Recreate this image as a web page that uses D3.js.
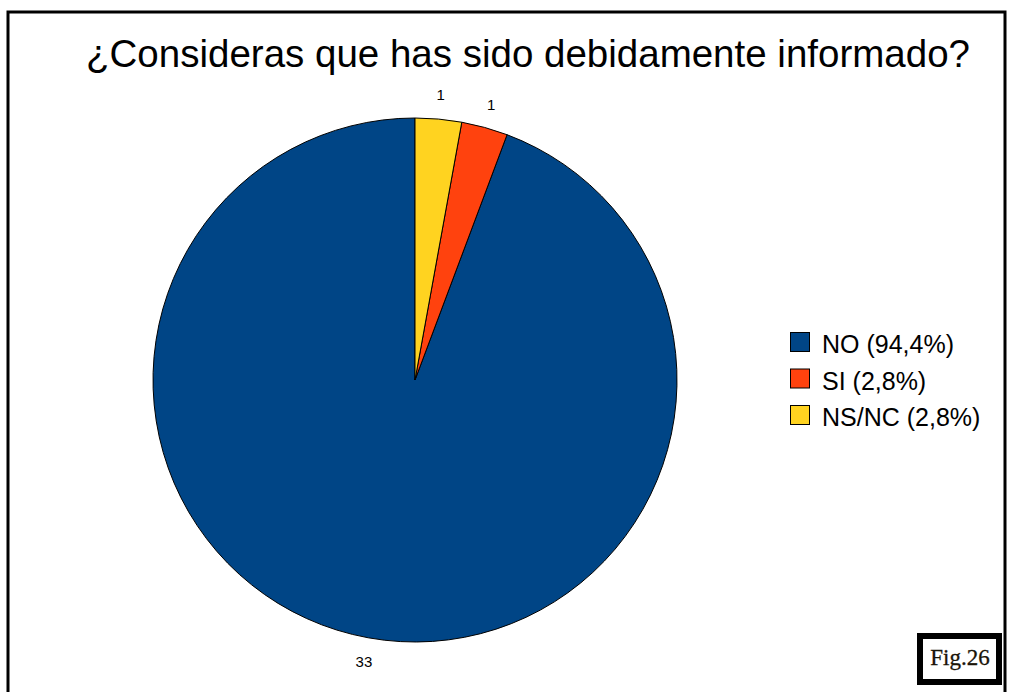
<!DOCTYPE html>
<html>
<head>
<meta charset="utf-8">
<script src="https://cdn.jsdelivr.net/npm/d3@7"></script>
<style>
  html, body { margin: 0; padding: 0; background: #fff; }
  svg { display: block; }
</style>
</head>
<body>
<svg id="chart" width="1010" height="692"></svg>
<script>
// Survey answers
const categories = ["NO", "SI", "NS/NC"];
const values = [33, 1, 1];
const legendLabels = ["NO (94,4%)", "SI (2,8%)", "NS/NC (2,8%)"];
const colors = ["#004586", "#ff420e", "#ffd320"];
const title = "¿Consideras que has sido debidamente informado?";
const figLabel = "Fig.26";

const svg = d3.select("#chart");
const font = "'Liberation Sans', Arial, sans-serif";

// Outer frame
svg.append("rect")
  .attr("x", 8).attr("y", 12)
  .attr("width", 997).attr("height", 700)
  .attr("fill", "none").attr("stroke", "#000").attr("stroke-width", 3);

// Title
svg.append("text")
  .attr("x", 528).attr("y", 67)
  .attr("text-anchor", "middle")
  .attr("font-family", font)
  .attr("font-size", 38.5)
  .attr("fill", "#000")
  .text(title);

// Pie: starts at 12 o'clock, runs counter-clockwise
const cx = 415, cy = 380, radius = 262;
const data = categories.map((c, i) => ({ category: c, value: values[i], color: colors[i] }));
const pie = d3.pie().value(d => d.value).sort(null).startAngle(0).endAngle(-2 * Math.PI);
const arcs = pie(data);
const arc = d3.arc().innerRadius(0).outerRadius(radius);
const labelArc = d3.arc().innerRadius(radius + 24).outerRadius(radius + 24);

const g = svg.append("g").attr("transform", `translate(${cx},${cy})`);
g.selectAll("path.slice")
  .data(arcs)
  .join("path")
  .attr("class", "slice")
  .attr("d", arc)
  .attr("fill", d => d.data.color)
  .attr("stroke", "#000")
  .attr("stroke-width", 1);

g.selectAll("text.value")
  .data(arcs)
  .join("text")
  .attr("class", "value")
  .attr("transform", d => `translate(${labelArc.centroid(d)})`)
  .attr("text-anchor", "middle")
  .attr("dy", "0.35em")
  .attr("font-family", font)
  .attr("font-size", 15)
  .attr("fill", "#000")
  .text(d => d.data.value);

// Legend
const legend = svg.append("g").attr("transform", "translate(790,332)");
const rowH = 36.5;
const items = legend.selectAll("g.item")
  .data(data)
  .join("g")
  .attr("class", "item")
  .attr("transform", (d, i) => `translate(0,${i * rowH})`);
items.append("rect")
  .attr("x", 0.5).attr("y", 0.5)
  .attr("width", 19).attr("height", 19)
  .attr("fill", d => d.color)
  .attr("stroke", "#000").attr("stroke-width", 1);
items.append("text")
  .attr("x", 32).attr("y", 21)
  .attr("font-family", font)
  .attr("font-size", 25)
  .attr("fill", "#000")
  .text((d, i) => legendLabels[i]);

// Figure tag
const fig = svg.append("g");
fig.append("rect")
  .attr("x", 920).attr("y", 636)
  .attr("width", 79).attr("height", 46)
  .attr("fill", "#fff").attr("stroke", "#000").attr("stroke-width", 6);
fig.append("text")
  .attr("x", 960).attr("y", 665)
  .attr("text-anchor", "middle")
  .attr("font-family", "'Liberation Serif', 'Times New Roman', serif")
  .attr("font-size", 23)
  .attr("fill", "#1a1408")
  .attr("stroke", "#1a1408").attr("stroke-width", 0.3)
  .text(figLabel);
</script>
</body>
</html>
